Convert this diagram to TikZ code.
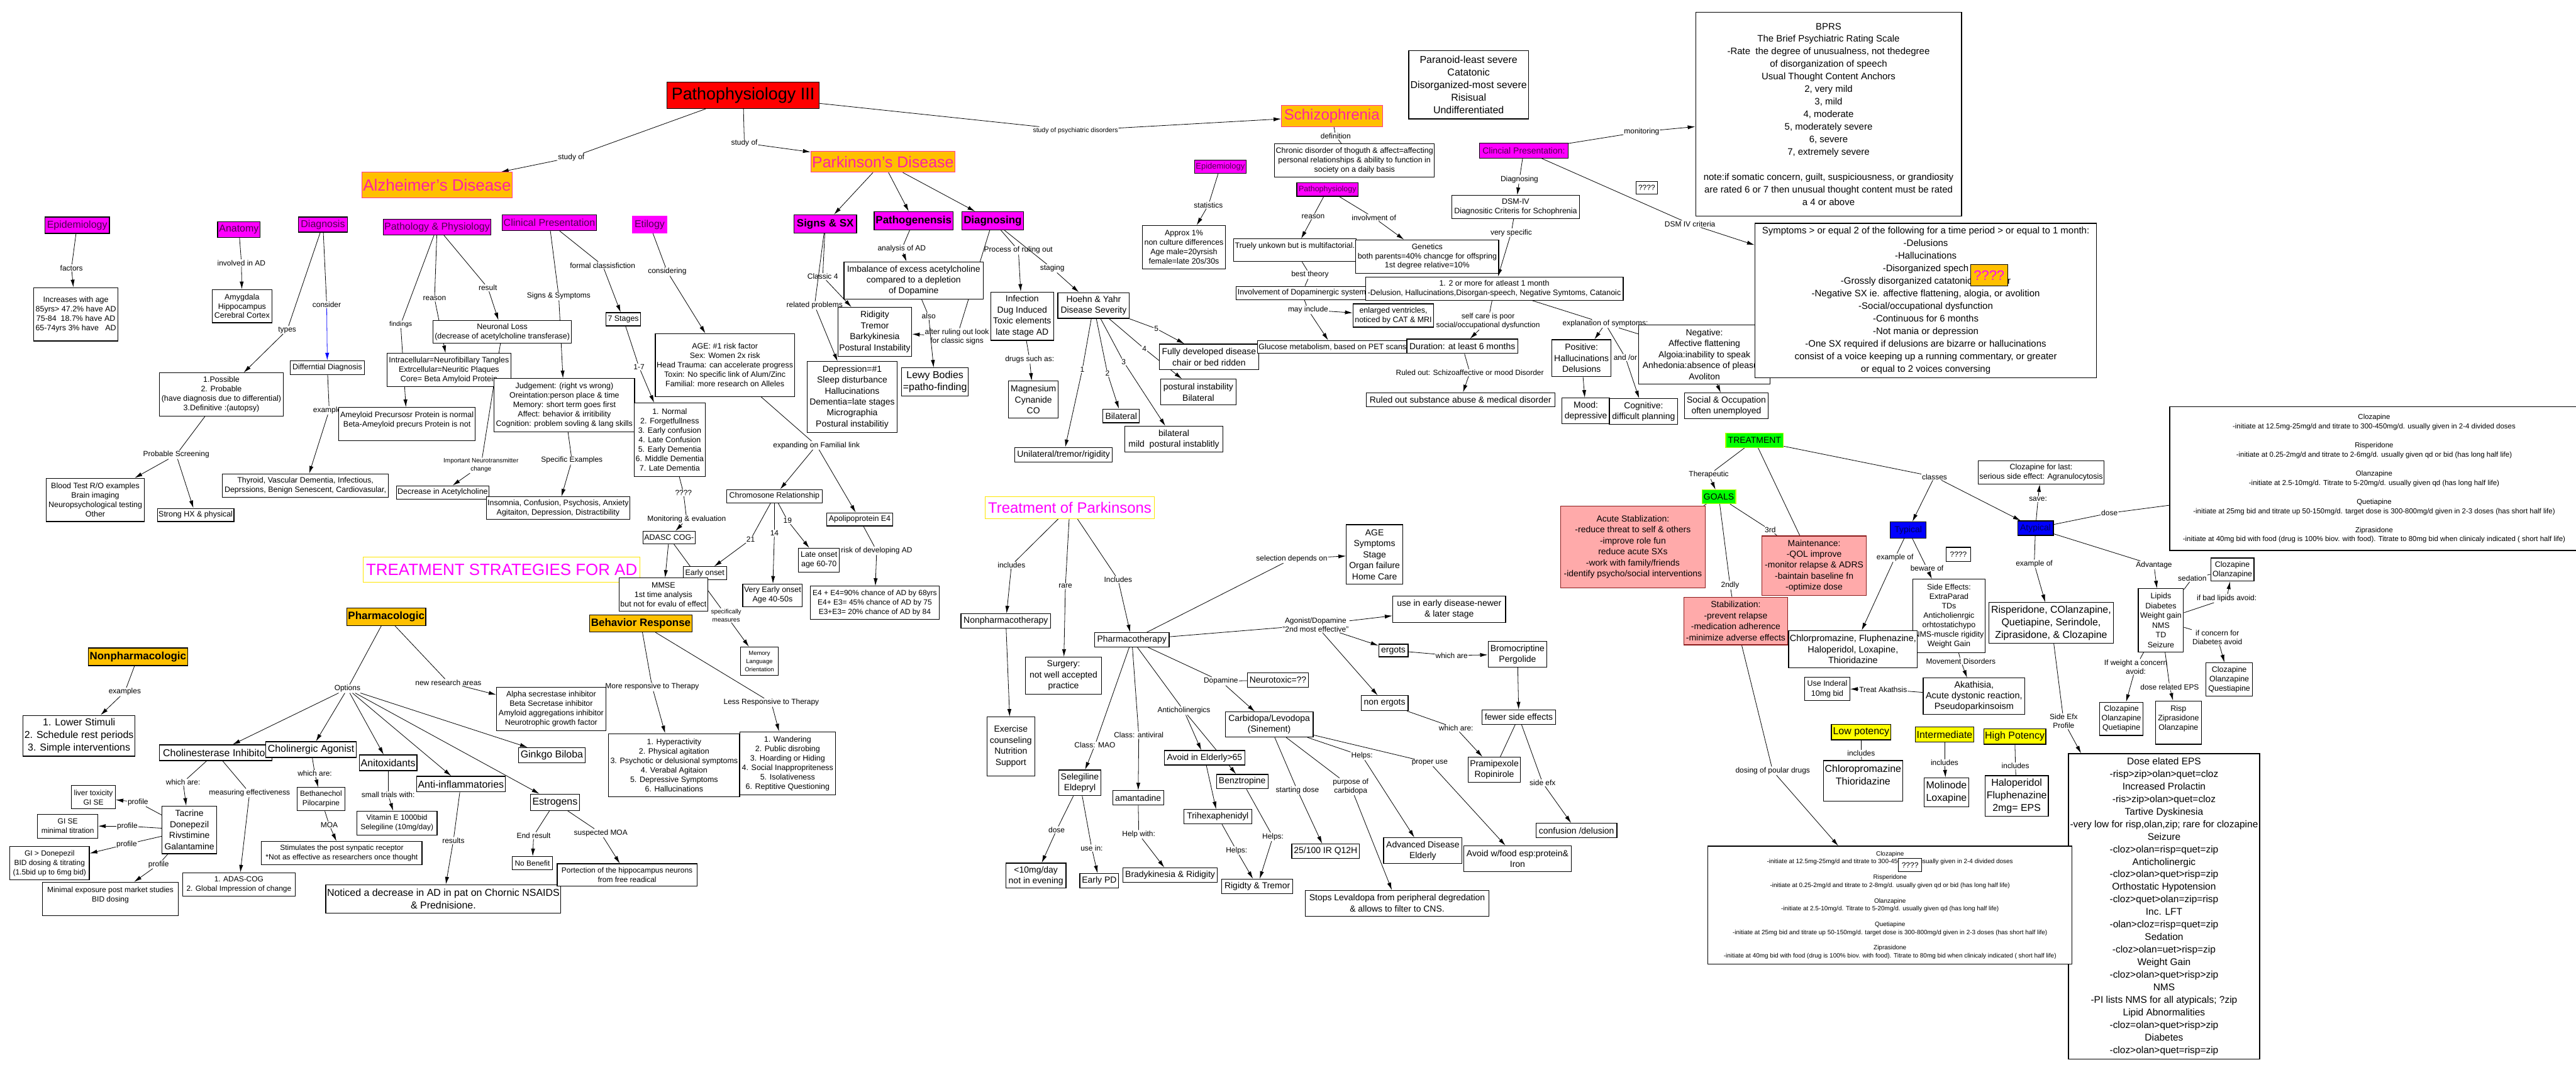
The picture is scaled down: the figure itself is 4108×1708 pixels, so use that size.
\documentclass[tikz,border=0pt]{standalone}
\usepackage{fontspec}
\setmainfont{Liberation Sans}
\usetikzlibrary{arrows.meta, backgrounds}
\definecolor{patred}{HTML}{FF0000}
\definecolor{gold}{HTML}{FFC000}
\definecolor{hotpink}{HTML}{FF1FA5}
\definecolor{pinkline}{HTML}{FF3399}
\definecolor{magfill}{HTML}{FF00FF}
\definecolor{magtext}{HTML}{4D004D}
\definecolor{lime}{HTML}{00FF00}
\definecolor{rose}{HTML}{FFAAAA}
\definecolor{roseline}{HTML}{8B1A1A}
\definecolor{ylw}{HTML}{FFFF00}
\definecolor{bluebox}{HTML}{0000FF}
\newcommand{\fsz}[2]{\fontsize{#1}{#2}\selectfont}
\tikzset{
    cbox/.style={
        draw, line width=1.2pt, fill=white, align=center,
        inner sep=2pt, font=\fsz{12.5}{15},
    },
    dims/.style 2 args={minimum width=#1, minimum height=#2},
    magbox/.style={cbox, fill=magfill, text=magtext, font=\fsz{16}{18}},
    boldmag/.style={cbox, fill=magfill, font=\fsz{17}{19}\bfseries},
    titlebox/.style={
        cbox, fill=gold, draw=pinkline, line width=1pt,
        text=hotpink, font=\fsz{26}{28},
    },
    headbox/.style={
        cbox, fill=white, draw=ylw!80!orange, line width=1pt,
        text=magfill, font=\fsz{26}{28},
    },
    orgbox/.style={cbox, fill=gold, font=\fsz{17}{19}\bfseries},
    greenbox/.style={cbox, fill=lime, draw=ylw!70!lime, font=\fsz{14}{16}},
    bluenode/.style={cbox, fill=bluebox, draw=black, text=blue!35!black, font=\fsz{14}{16}},
    rosebox/.style={cbox, fill=rose, draw=roseline, font=\fsz{14}{17.5}},
    ylwbox/.style={cbox, fill=ylw, font=\fsz{16}{18}},
    lbl/.style={inner sep=1pt, align=center, font=\fsz{12}{14}},
    slbl/.style={lbl, font=\fsz{10.5}{13}},
    ln/.style={line width=0.8pt},
    arr/.style={ln, -{Latex[length=12pt, width=6.5pt]}},
}

\begin{document}
\begin{tikzpicture}[x=1pt, y=-1pt]
\useasboundingbox (0,0) rectangle (4108,1708);

% ═══ ROOT ═══
\node[cbox, dims={243}{42}, fill=patred, inner sep=0pt, font=\fsz{27}{29}] (patho) at (1185,152) {Pathophysiology III};
\node[titlebox, dims={240}{41}] (ad) at (697,295) {Alzheimer's Disease};
\node[titlebox, dims={224}{33}, font=\fsz{25}{27}] (pd) at (1408,258) {Parkinson's Disease};
\node[titlebox, dims={161}{34}, font=\fsz{24}{26}] (schizo) at (2124,185) {Schizophrenia};

\node[lbl] (lstudyad) at (911,251) {study of};
\node[lbl] (lstudypd) at (1187,228) {study of};
\node[slbl] (lpsych) at (1715,208) {study of psychiatric disorders};

% ═══ ALZHEIMER'S ═══
\node[magbox, dims={103}{26}] (adepi) at (123,359) {Epidemiology};
\node[magbox, dims={68}{25}] (adanat) at (381,366) {Anatomy};
\node[magbox, dims={78}{24}] (addiag) at (515,358) {Diagnosis};
\node[magbox, dims={170}{25}] (adpath) at (697,362) {Pathology \& Physiology};
\node[magbox, dims={150}{25}] (adclin) at (876,355) {Clinical Presentation};
\node[magbox, dims={55}{26}, draw=magfill] (adetio) at (1036,358) {Etilogy};

\node[lbl] (lfactors) at (114,427) {factors};
\node[lbl] (linvol) at (385,419) {involved in AD};
\node[lbl] (lconsider) at (521,486) {consider};
\node[lbl] (ltypes) at (458,526) {types};
\node[slbl] (lfindings) at (639,517) {findings};
\node[lbl] (lreason) at (693,476) {reason};
\node[lbl] (lresult) at (778,459) {result};
\node[lbl] (lsignsym) at (891,472) {Signs \& Symptoms};
\node[lbl] (lformal) at (961,423) {formal classisfiction};
\node[lbl] (lconsid) at (1064,433) {considering};
\node[lbl] (lprobscr) at (281,725) {Probable Screening};
\node[lbl] (lexamp) at (525,654) {examples};
\node[slbl, font=\fsz{10}{13}] (lneuro) at (767,742) {Important Neurotransmitter\\change};
\node[lbl] (lspecex) at (912,734) {Specific Examples};
\node[lbl] (lseven) at (1019,585) {1-7};
\node[lbl] (lqq) at (1090,786) {????};
\node[lbl] (lmonit) at (1095,828) {Monitoring \& evaluation};
\node[lbl] (lexpand) at (1302,710) {expanding on Familial link};
\node[lbl] (ltwentyone) at (1197,860) {21};
\node[lbl] (lfourteen) at (1235,850) {14};
\node[lbl] (lnineteen) at (1256,830) {19};
\node[lbl] (lrisk) at (1398,878) {risk of developing AD};
\node[slbl, font=\fsz{10}{13}] (lspecif) at (1158,981) {specifically\\measures};

\node[cbox, dims={134}{85}] (adinc) at (121,501) {Increases with age\\85yrs> 47.2\% have AD\\75-84~~18.7\% have AD\\65-74yrs 3\% have~~~AD};
\node[cbox, dims={95}{53}] (adamyg) at (386,488) {Amygdala\\Hippocampus\\Cerebral Cortex};
\node[cbox, dims={197}{69}] (poss) at (353,629) {1.Possible\\2. Probable\\(have diagnosis due to differential)\\3.Definitive :(autopsy)};
\node[cbox, dims={119}{22}] (diffdx) at (522,586) {Differntial Diagnosis};
\node[cbox, dims={156}{69}] (blood) at (152,797) {Blood Test R/O examples\\Brain imaging\\Neuropsychological testing\\Other};
\node[cbox, dims={121}{21}] (stronghx) at (312,821) {Strong HX \& physical};
\node[cbox, dims={265}{37}] (thyroid) at (487,774) {Thyroid, Vascular Dementia, Infectious,\\Deprssions, Benign Senescent, Cardiovasular,};
\node[cbox, dims={221}{36}] (neuloss) at (801,529) {Neuronal Loss\\(decrease of acetylcholine transferase)};
\node[cbox, dims={198}{53}] (intra) at (716,590) {Intracellular=Neurofibillary Tangles\\Extrcellular=Neuritic Plaques\\Core= Beta Amyloid Protein};
\node[cbox, dims={218}{53}] (ameyl) at (649,676) {Ameyloid Precursosr Protein is normal\\Beta-Ameyloid precurs Protein is not\\\mbox{}};
\node[cbox, dims={224}{85}] (judge) at (900,646) {Judgement: (right vs wrong)\\Oreintation:person place \& time\\Memory: short term goes first\\Affect: behavior \& irritibility\\Cognition: problem sovling \& lang skills};
\node[cbox, dims={148}{21}] (decach) at (706,785) {Decrease in Acetylcholine};
\node[cbox, dims={228}{36}] (insom) at (890,810) {Insomnia, Confusion, Psychosis, Anxiety\\Agitaiton, Depression, Distractibility};
\node[cbox, dims={55}{21}] (stages) at (994,509) {7 Stages};
\node[cbox, dims={113}{117}] (normal) at (1068,701) {1. Normal\\2. Forgetfullness\\3. Early confusion\\4. Late Confusion\\5. Early Dementia\\6. Middle Dementia\\7. Late Dementia};
\node[cbox, dims={82}{20}] (adasc) at (1067,857) {ADASC COG-};
\node[cbox, dims={222}{100}] (agebox) at (1156,582) {AGE: \#1 risk factor\\Sex: Women 2x risk\\Head Trauma: can accelerate progress\\Toxin: No specific link of Alum/Zinc\\Familial: more research on Alleles};
\node[cbox, dims={153}{21}] (chromo) at (1235,791) {Chromosone Relationship};
\node[cbox, dims={65}{38}] (lateon) at (1306,893) {Late onset\\age 60-70};
\node[cbox, dims={105}{21}] (apoe) at (1371,828) {Apolipoprotein E4};
\node[cbox, dims={205}{53}, font=\fsz{12}{15}] (efour) at (1395,961) {E4 + E4=90\% chance of AD by 68yrs\\E4+ E3= 45\% chance of AD by 75\\E3+E3= 20\% chance of AD by 84};
\node[cbox, dims={69}{21}] (earlyon) at (1124,914) {Early onset};
\node[cbox, dims={94}{36}] (vearly) at (1232,949) {Very Early onset\\Age 40-50s};
\node[headbox, dims={441}{40}] (adtreat) at (800,908) {TREATMENT STRATEGIES FOR AD};
\node[cbox, dims={141}{53}] (mmse) at (1058,948) {MMSE\\1st time analysis\\but not for evalu of effect};
\node[cbox, dims={60}{45}, font=\fsz{9.5}{13}] (memlang) at (1211,1054) {Memory\\Language\\Orientation};

% ═══ AD TREATMENT ═══
\node[orgbox, dims={125}{28}] (pharm) at (616,983) {Pharmacologic};
\node[orgbox, dims={164}{27}] (behav) at (1022,994) {Behavior Response};
\node[orgbox, dims={156}{28}] (nonpharm) at (220,1047) {Nonpharmacologic};

\node[lbl] (lexamples) at (199,1103) {examples};
\node[lbl] (loptions) at (554,1098) {Options};
\node[lbl] (lnewres) at (715,1088) {new research areas};
\node[lbl] (lmore) at (1040,1095) {More responsive to Therapy};
\node[lbl] (lless) at (1230,1120) {Less Responsive to Therapy};
\node[lbl] (lwhichci) at (292,1247) {which are:};
\node[lbl] (lmeasur) at (398,1264) {measuring effectiveness};
\node[lbl] (lwhichca) at (502,1233) {which are:};
\node[lbl] (lsmall) at (619,1267) {small trials with:};
\node[lbl] (lprofa) at (220,1279) {profile};
\node[lbl] (lprofb) at (203,1317) {profile};
\node[lbl] (lprofc) at (202,1346) {profile};
\node[lbl] (lprofd) at (253,1378) {profile};
\node[lbl] (lmoa) at (525,1315) {MOA};
\node[lbl] (lresults) at (723,1340) {results};
\node[lbl] (lendres) at (851,1332) {End result};
\node[lbl] (lsuspmoa) at (958,1328) {suspected MOA};

\node[cbox, dims={177}{65}, font=\fsz{16}{20}] (lower) at (126,1173) {1. Lower Stimuli\\2. Schedule rest periods\\3. Simple interventions};
\node[cbox, dims={174}{69}] (alpha) at (879,1130) {Alpha secrestase inhibitor\\Beta Secretase inhibitor\\Amyloid aggregations inhibitor\\Neurotrophic growth factor};
\node[cbox, dims={209}{101}] (hyper) at (1075,1220) {1. Hyperactivity\\2. Physical agitation\\3. Psychotic or delusional symptoms\\4. Verabal Agitaion\\5. Depressive Symptoms\\6. Hallucinations};
\node[cbox, dims={152}{101}] (wander) at (1256,1217) {1. Wandering\\2. Public disrobing\\3. Hoarding or Hiding\\4. Social Inappropriteness\\5. Isolativeness\\6. Reptitive Questioning};
\node[cbox, dims={179}{25}, font=\fsz{16}{18}] (chei) at (344,1200) {Cholinesterase Inhibitor};
\node[cbox, dims={144}{25}, font=\fsz{16}{18}] (cholag) at (496,1195) {Cholinergic Agonist};
\node[cbox, dims={92}{25}, font=\fsz{16}{18}] (antiox) at (619,1216) {Anitoxidants};
\node[cbox, dims={141}{25}, font=\fsz{16}{18}] (antiinf) at (735,1250) {Anti-inflammatories};
\node[cbox, dims={106}{24}, font=\fsz{16}{18}] (ginkgo) at (880,1204) {Ginkgo Biloba};
\node[cbox, dims={78}{26}, font=\fsz{16}{18}] (estro) at (885,1279) {Estrogens};
\node[cbox, dims={70}{37}, font=\fsz{12}{15}] (livertox) at (149,1271) {liver toxicity\\GI SE};
\node[cbox, dims={87}{76}, font=\fsz{14}{17.5}] (tacrine) at (302,1323) {Tacrine\\Donepezil\\Rivstimine\\Galantamine};
\node[cbox, dims={96}{38}, font=\fsz{12}{15}] (gise) at (108,1317) {GI SE\\minimal titration};
\node[cbox, dims={127}{53}, font=\fsz{12}{15}] (gidon) at (79,1376) {GI > Donepezil\\BID dosing \& titrating\\(1.5bid up to 6mg bid)};
\node[cbox, dims={216}{53}, font=\fsz{12}{15}] (minexp) at (176,1433) {Minimal exposure post market studies\\BID dosing\\\mbox{}};
\node[cbox, dims={179}{37}, font=\fsz{12}{15}] (adascog) at (381,1410) {1. ADAS-COG\\2. Global Impression of change};
\node[cbox, dims={76}{37}, font=\fsz{12}{15}] (betha) at (512,1274) {Bethanechol\\Pilocarpine};
\node[cbox, dims={256}{37}, font=\fsz{12}{15}] (stim) at (545,1360) {Stimulates the post synpatic receptor\\*Not as effective as researchers once thought};
\node[cbox, dims={128}{38}, font=\fsz{12}{15}] (vite) at (633,1312) {Vitamin E 1000bid\\Selegiline (10mg/day)};
\node[cbox, dims={371}{45}, font=\fsz{16}{20}] (noticed) at (707,1433) {Noticed a decrease in AD in pat on Chornic NSAIDS\\\& Prednisione.};
\node[cbox, dims={64}{21}, font=\fsz{12}{15}] (nobenefit) at (849,1376) {No Benefit};
\node[cbox, dims={223}{36}, font=\fsz{12}{15}] (portect) at (1000,1395) {Portection of the hippocampus neurons\\from free readical};

% ═══ PARKINSON'S ═══
\node[boldmag, dims={100}{29}] (signs) at (1316,357) {Signs \& SX};
\node[boldmag, dims={126}{29}] (pathogen) at (1457,352) {Pathogenensis};
\node[boldmag, dims={98}{29}] (pddiag) at (1583,352) {Diagnosing};

\node[lbl] (lclassic) at (1312,441) {Classic 4};
\node[lbl] (lrelated) at (1299,487) {related problems};
\node[lbl] (lanalysis) at (1438,397) {analysis of AD};
\node[lbl] (lalso) at (1481,504) {also};
\node[lbl] (lafter) at (1526,537) {after ruling out look\\for classic signs};
\node[lbl] (lprocess) at (1624,399) {Process of ruling out};
\node[lbl] (lstaging) at (1678,428) {staging};
\node[lbl] (ldrugs) at (1642,573) {drugs such as:};
\node[lbl] (lone) at (1726,589) {1};
\node[lbl] (ltwo) at (1766,595) {2};
\node[lbl] (lthree) at (1792,577) {3};
\node[lbl] (lfour) at (1825,556) {4};
\node[lbl] (lfive) at (1844,524) {5};

\node[cbox, dims={222}{59}, font=\fsz{14}{17}] (imbal) at (1457,447) {Imbalance of excess acetylcholine\\compared to a depletion\\of Dopamine};
\node[cbox, dims={118}{78}, font=\fsz{14}{17.5}] (ridig) at (1395,529) {Ridigity\\Tremor\\Barkykinesia\\Postural Instability};
\node[cbox, dims={144}{113}, font=\fsz{14}{17.5}] (depress) at (1359,633) {Depression=\#1\\Sleep disturbance\\Hallucinations\\Dementia=late stages\\Micrographia\\Postural instabilitiy};
\node[cbox, dims={106}{45}, font=\fsz{16}{19}] (lewy) at (1491,609) {Lewy Bodies\\=patho-finding};
\node[cbox, dims={100}{77}, font=\fsz{14}{17.5}] (infect) at (1630,504) {Infection\\Dug Induced\\Toxic elements\\late stage AD};
\node[cbox, dims={114}{41}, font=\fsz{14}{17}] (hoehn) at (1744,487) {Hoehn \& Yahr\\Disease Severity};
\node[cbox, dims={79}{59}, font=\fsz{14}{17.5}] (magnes) at (1648,637) {Magnesium\\Cynanide\\CO};
\node[cbox, dims={159}{41}, font=\fsz{14}{18}] (fully) at (1928,569) {Fully developed disease\\chair or bed ridden};
\node[cbox, dims={120}{41}, font=\fsz{14}{18}] (postbil) at (1911,625) {postural instability\\Bilateral};
\node[cbox, dims={58}{22}, font=\fsz{14}{17}] (bilat) at (1788,663) {Bilateral};
\node[cbox, dims={156}{41}, font=\fsz{14}{17}] (bilmild) at (1872,700) {bilateral\\mild~ postural instablitly};
\node[cbox, dims={156}{23}, font=\fsz{14}{17}] (unilat) at (1696,725) {Unilateral/tremor/rigidity};

% ═══ PARKINSON'S TREATMENT ═══
\node[headbox, dims={269}{35}, font=\fsz{24}{26}] (pdtreat) at (1706,809) {Treatment of Parkinsons};

\node[lbl] (lincla) at (1613,901) {includes};
\node[lbl] (lrare) at (1699,934) {rare};
\node[lbl] (linclb) at (1783,924) {Includes};
\node[lbl] (lselect) at (2060,891) {selection depends on};
\node[lbl] (lagonist) at (2098,996) {Agonist/Dopamine\\"2nd most effective"};
\node[lbl] (lwhichergo) at (2315,1045) {which are};
\node[lbl] (lwhichnon) at (2322,1161) {which are:};
\node[lbl] (lsideefx) at (2460,1248) {side efx};
\node[lbl] (ldopamine) at (1947,1086) {Dopamine};
\node[lbl] (lantichol) at (1888,1133) {Anticholinergics};
\node[lbl] (lantiviral) at (1816,1172) {Class: antiviral};
\node[lbl] (lmao) at (1746,1188) {Class: MAO};
\node[lbl] (lhelpsa) at (2172,1205) {Helps:};
\node[lbl] (lproper) at (2280,1216) {proper use};
\node[lbl] (lstart) at (2069,1260) {starting dose};
\node[lbl] (lpurpose) at (2154,1254) {purpose of\\carbidopa};
\node[lbl] (ldose) at (1685,1323) {dose};
\node[lbl] (lusein) at (1741,1352) {use in:};
\node[lbl] (lhelpwith) at (1816,1330) {Help with:};
\node[lbl] (lhelpsb) at (2030,1334) {Helps:};
\node[lbl] (lhelpsc) at (1972,1356) {Helps:};

\node[cbox, dims={143}{23}, font=\fsz{14}{17}] (nonpharmth) at (1604,990) {Nonpharmacotherapy};
\node[cbox, dims={121}{59}, font=\fsz{14}{17.5}] (surgery) at (1696,1077) {Surgery:\\not well accepted\\practice};
\node[cbox, dims={76}{94}, font=\fsz{14}{17.5}] (exercise) at (1612,1190) {Exercise\\counseling\\Nutrition\\Support};
\node[cbox, dims={119}{23}, font=\fsz{14}{17}] (pharmth) at (1805,1020) {Pharmacotherapy};
\node[cbox, dims={90}{95}, font=\fsz{14}{17.5}] (agesym) at (2192,884) {AGE\\Symptoms\\Stage\\Organ failure\\Home Care};
\node[cbox, dims={180}{42}, font=\fsz{14}{17}] (useearly) at (2311,971) {use in early disease-newer\\\& later stage};
\node[cbox, dims={47}{20}, font=\fsz{14}{17}] (ergots) at (2222,1037) {ergots};
\node[cbox, dims={94}{41}, font=\fsz{14}{17}] (bromo) at (2420,1043) {Bromocriptine\\Pergolide};
\node[cbox, dims={75}{24}, font=\fsz{14}{17}] (nonergots) at (2208,1121) {non ergots};
\node[cbox, dims={83}{40}, font=\fsz{14}{17}] (pramip) at (2383,1227) {Pramipexole\\Ropinirole};
\node[cbox, dims={117}{23}, font=\fsz{14}{17}] (fewer) at (2422,1143) {fewer side effects};
\node[cbox, dims={129}{23}, font=\fsz{14}{17}] (confus) at (2514,1324) {confusion /delusion};
\node[cbox, dims={97}{23}, font=\fsz{14}{17}] (neurotox) at (2038,1084) {Neurotoxic=??};
\node[cbox, dims={140}{40}, font=\fsz{14}{17}] (carbi) at (2024,1155) {Carbidopa/Levodopa\\(Sinement)};
\node[cbox, dims={128}{23}, font=\fsz{14}{17}] (avoidel) at (1921,1208) {Avoid in Elderly>65};
\node[cbox, dims={82}{23}, font=\fsz{14}{17}] (benz) at (1981,1246) {Benztropine};
\node[cbox, dims={67}{41}, font=\fsz{14}{17}] (seleg) at (1722,1248) {Selegiline\\Eldepryl};
\node[cbox, dims={81}{23}, font=\fsz{14}{17}] (amant) at (1815,1272) {amantadine};
\node[cbox, dims={108}{23}, font=\fsz{14}{17}] (trihex) at (1942,1302) {Trihexaphenidyl};
\node[cbox, dims={96}{40}, font=\fsz{14}{17}] (ltten) at (1652,1396) {<10mg/day\\not in evening};
\node[cbox, dims={62}{23}, font=\fsz{14}{17}] (earlypd) at (1753,1404) {Early PD};
\node[cbox, dims={151}{23}, font=\fsz{14}{17}] (bradyk) at (1866,1395) {Bradykinesia \& Ridigity};
\node[cbox, dims={113}{23}, font=\fsz{14}{17}] (rigtrem) at (2005,1413) {Rigidty \& Tremor};
\node[cbox, dims={108}{23}, font=\fsz{14}{17}] (dosetf) at (2114,1357) {25/100 IR Q12H};
\node[cbox, dims={125}{41}, font=\fsz{14}{17}] (advdis) at (2269,1356) {Advanced Disease\\Elderly};
\node[cbox, dims={171}{41}, font=\fsz{14}{17}] (avoidfood) at (2420,1369) {Avoid w/food esp:protein\&\\Iron};
\node[cbox, dims={293}{41}, font=\fsz{14}{18}] (stops) at (2228,1440) {Stops Levaldopa from peripheral degredation\\\& allows to filter to CNS.};

% ═══ SCHIZOPHRENIA ═══
\node[lbl] (ldefn) at (2130,217) {definition};
\node[lbl] (lstats) at (1927,327) {statistics};
\node[lbl] (lsreason) at (2094,345) {reason};
\node[lbl] (linvolv) at (2191,347) {involvment of};
\node[lbl] (lbest) at (2089,438) {best theory};
\node[lbl] (lmayinc) at (2086,494) {may include};
\node[lbl] (lselfcare) at (2373,512) {self care is poor\\social/occupational dysfunction};
\node[lbl] (lruled) at (2344,594) {Ruled out: Schizoaffective or mood Disorder};
\node[lbl] (lexplan) at (2560,516) {explanation of symptoms:};
\node[lbl] (landor) at (2592,570) {and /or};
\node[lbl] (lmonitoring) at (2618,210) {monitoring};
\node[lbl] (lsdiag) at (2423,286) {Diagnosing};
\node[lbl] (lvspec) at (2410,371) {very specific};
\node[lbl] (ldsmcrit) at (2695,357) {DSM IV criteria};

\node[cbox, dims={191}{109}, font=\fsz{16}{20}] (paran) at (2342,135) {Paranoid-least severe\\Catatonic\\Disorganized-most severe\\Risisual\\Undifferentiated};
\node[cbox, dims={252}{53}, font=\fsz{12.5}{15}] (chronic) at (2160,256) {Chronic disorder of thoguth \& affect=affecting\\personal relationships \& ability to function in\\society on a daily basis};
\node[magbox, dims={82}{21}, font=\fsz{13}{15}] (szepi) at (1946,266) {Epidemiology};
\node[cbox, dims={132}{69}] (approx) at (1888,394) {Approx 1\%\\non culture differences\\Age male=20yrsish\\female=late 20s/30s};
\node[magbox, dims={98}{22}, font=\fsz{12.5}{15}] (szpath) at (2117,302) {Pathophysiology};
\node[cbox, dims={195}{36}] (truely) at (2065,399) {Truely unkown but is multifactorial.\\\mbox{}};
\node[cbox, dims={228}{53}] (genet) at (2276,409) {Genetics\\both parents=40\% chancge for offspring\\1st degree relative=10\%};
\node[cbox, dims={203}{21}] (dopsys) at (2076,467) {Involvement of Dopaminergic system};
\node[cbox, dims={411}{37}] (twomore) at (2383,460) {1. 2 or more for atleast 1 month\\-Delusion, Hallucinations,Disorgan-speech, Negative Symtoms, Catanoic};
\node[cbox, dims={129}{37}] (enlarged) at (2222,503) {enlarged ventricles,\\noticed by CAT \& MRI};
\node[cbox, dims={238}{20}] (glucose) at (2125,553) {Glucose metabolism, based on PET scans};
\node[cbox, dims={177}{23}, font=\fsz{14}{17}] (duration) at (2332,552) {Duration: at least 6 months};
\node[cbox, dims={301}{22}, font=\fsz{14}{17}] (ruledsub) at (2329,637) {Ruled out substance abuse \& medical disorder};
\node[cbox, dims={94}{59}, font=\fsz{14}{17.5}] (positive) at (2522,571) {Positive:\\Hallucinations\\Delusions};
\node[cbox, dims={209}{94}, font=\fsz{14}{17.5}] (negative) at (2718,565) {Negative:\\Affective flattening\\Algoia:inability to speak\\Anhedonia:absence of pleasure\\Avoliton};
\node[cbox, dims={76}{41}, font=\fsz{14}{17}] (mood) at (2529,655) {Mood:\\depressive};
\node[cbox, dims={109}{41}, font=\fsz{14}{17}] (cognit) at (2621,656) {Cognitive:\\difficult planning};
\node[cbox, dims={133}{41}, font=\fsz{14}{17}] (social) at (2753,647) {Social \& Occupation\\often unemployed};
\node[magbox, dims={141}{24}, font=\fsz{14}{16}] (szclin) at (2430,240) {Clincial Presentation:};
\node[cbox, dims={203}{37}] (dsm) at (2417,330) {DSM-IV\\Diagnositic Criteris for Schophrenia};
\node[cbox, dims={34}{20}, font=\fsz{12}{14}] (qbox) at (2626,299) {????};
\node[cbox, dims={424}{325}, font=\fsz{15}{20}] (bprs) at (2916,182) {BPRS\\The Brief Psychiatric Rating Scale\\-Rate~ the degree of unusualness, not thedegree\\of disorganization of speech\\Usual Thought Content Anchors\\2, very mild\\3, mild\\4, moderate\\5, moderately severe\\6, severe\\7, extremely severe\\[20pt]note:if somatic concern, guilt, suspiciousness, or grandiosity\\are rated 6 or 7 then unusual thought content must be rated\\a 4 or above};
\node[cbox, dims={545}{246}, font=\fsz{15}{20}] (symp) at (3071,479) {Symptoms > or equal 2 of the following for a time period > or equal to 1 month:\\-Delusions\\-Hallucinations\\-Disorganized spech\\-Grossly disorganized catatonic behavior\\-Negative SX ie. affective flattening, alogia, or avolition\\-Social/occupational dysfunction\\-Continuous for 6 months\\-Not mania or depression\\-One SX required if delusions are bizarre or hallucinations\\consist of a voice keeping up a running commentary, or greater\\or equal to 2 voices conversing};
\node[titlebox, dims={59}{34}, font=\fsz{22}{24}, draw=black, line width=1.2pt, text=magfill] (qorange) at (3172,439) {????};

% ═══ SCHIZOPHRENIA TREATMENT ═══
\node[lbl] (ltherap) at (2725,757) {Therapeutic};
\node[lbl] (lthird) at (2823,845) {3rd};
\node[lbl] (lsecond) at (2759,933) {2ndly};
\node[lbl] (lclasses) at (3085,760) {classes};
\node[lbl] (lsave) at (3250,796) {save:};
\node[lbl] (ldosing) at (3364,818) {dose};
\node[lbl] (lexofa) at (3022,889) {example of};
\node[lbl] (lbeware) at (3073,906) {beware of};
\node[lbl] (lmovdis) at (3127,1054) {Movement Disorders};
\node[lbl] (ltreatak) at (3003,1099) {Treat Akathsis};
\node[lbl] (lexofb) at (3244,899) {example of};
\node[lbl] (ladvant) at (3435,901) {Advantage};
\node[lbl] (lsedation) at (3496,922) {sedation};
\node[lbl] (lbadlip) at (3551,954) {if bad lipids avoid:};
\node[lbl] (ldiabav) at (3536,1016) {if concern for\\Diabetes avoid};
\node[lbl] (lweight) at (3406,1063) {If weight a concern\\avoid:};
\node[lbl] (ldoseeps) at (3460,1095) {dose related EPS};
\node[lbl] (lsidefxp) at (3291,1150) {Side Efx\\Profile};
\node[lbl] (lincpa) at (2968,1201) {includes};
\node[lbl] (lincpb) at (3101,1216) {includes};
\node[lbl] (lincpc) at (3214,1221) {includes};
\node[lbl] (lpopular) at (2827,1229) {dosing of poular drugs};

\node[greenbox, dims={92}{23}] (treat) at (2798,702) {TREATMENT};
\node[greenbox, dims={54}{22}] (goals) at (2741,792) {GOALS};
\node[rosebox, dims={231}{131}] (acute) at (2604,872) {Acute Stablization:\\-reduce threat to self \& others\\-improve role fun\\reduce acute SXs\\-work with family/friends\\-identify psycho/social interventions};
\node[rosebox, dims={167}{95}] (maint) at (2893,902) {Maintenance:\\-QOL improve\\-monitor relapse \& ADRS\\-baintain baseline fn\\-optimize dose};
\node[rosebox, dims={166}{76}] (stabil) at (2768,990) {Stabilization:\\-prevent relapse\\-medication adherence\\-minimize adverse effects};
\node[bluenode, dims={57}{26}] (typical) at (3043,845) {Typical};
\node[bluenode, dims={57}{23}] (atypical) at (3246,842) {Atypical};
\node[cbox, dims={201}{37}] (clozlast) at (3255,753) {Clozapine for last:\\serious side effect: Agranulocytosis};
\node[cbox, dims={652}{229}, font=\fsz{11.5}{15}] (dosetop) at (3786,763) {Clozapine\\-initiate at 12.5mg-25mg/d and titrate to 300-450mg/d. usually given in 2-4 divided doses\\[15pt]Risperidone\\-initiate at 0.25-2mg/d and titrate to 2-6mg/d. usually given qd or bid (has long half life)\\[15pt]Olanzapine\\-initiate at 2.5-10mg/d. Titrate to 5-20mg/d. usually given qd (has long half life)\\[15pt]Quetiapine\\-initiate at 25mg bid and titrate up 50-150mg/d. target dose is 300-800mg/d given in 2-3 doses (has short half life)\\[15pt]Ziprasidone\\-initiate at 40mg bid with food (drug is 100\% biov. with food). Titrate to 80mg bid when clinicaly indicated ( short half life)};
\node[cbox, dims={39}{23}, font=\fsz{12}{14}] (qtyp) at (3123,884) {????};
\node[cbox, dims={116}{117}, font=\fsz{12.5}{15}] (sidefx) at (3108,982) {Side Effects:\\ExtraParad\\TDs\\Anticholienrgic\\orhtostatichypo\\NMS-muscle rigidity\\Weight Gain};
\node[cbox, dims={204}{59}, font=\fsz{14.5}{17.5}] (chlorp) at (2955,1035) {Chlorpromazine, Fluphenazine,\\Haloperidol, Loxapine,\\Thioridazine};
\node[cbox, dims={162}{58}, font=\fsz{14.5}{17.5}] (akath) at (3148,1110) {Akathisia,\\Acute dystonic reaction,\\Pseudoparkinsoism};
\node[cbox, dims={72}{37}, font=\fsz{12.5}{16}] (inderal) at (2914,1098) {Use Inderal\\10mg bid};
\node[cbox, dims={199}{65}, font=\fsz{16}{20}] (risper) at (3271,993) {Risperidone, COlanzapine,\\Quetiapine, Serindole,\\Ziprasidone, \& Clozapine};
\node[cbox, dims={72}{101}, font=\fsz{12.5}{15.5}] (lipids) at (3446,989) {Lipids\\Diabetes\\Weight gain\\NMS\\TD\\Seizure};
\node[cbox, dims={69}{37}, font=\fsz{12.5}{15}] (cozola) at (3560,908) {Clozapine\\Olanzapine};
\node[cbox, dims={74}{53}, font=\fsz{12.5}{15}] (cozolb) at (3555,1083) {Clozapine\\Olanzapine\\Questiapine};
\node[cbox, dims={69}{53}, font=\fsz{12.5}{15}] (cozolc) at (3383,1146) {Clozapine\\Olanzapine\\Quetiapine};
\node[cbox, dims={73}{69}, font=\fsz{12.5}{15}] (rispzip) at (3474,1152) {Risp\\Ziprasidone\\Olanzapine\\\mbox{}};
\node[ylwbox, dims={95}{25}] (lowpot) at (2968,1167) {Low potency};
\node[ylwbox, dims={93}{24}] (interm) at (3101,1171) {Intermediate};
\node[ylwbox, dims={99}{25}] (highpot) at (3213,1174) {High Potency};
\node[cbox, dims={126}{65}, font=\fsz{16}{20}] (chlorob) at (2971,1245) {Chloropromazine\\Thioridazine\\\mbox{}};
\node[cbox, dims={71}{46}, font=\fsz{16}{20}] (molin) at (3104,1263) {Molinode\\Loxapine};
\node[cbox, dims={101}{65}, font=\fsz{16}{20}] (halop) at (3216,1269) {Haloperidol\\Fluphenazine\\2mg= EPS};
\node[cbox, dims={305}{487}, font=\fsz{15.5}{20}] (doseeps) at (3451,1445) {Dose elated EPS\\-risp>zip>olan>quet=cloz\\Increased Prolactin\\-ris>zip>olan>quet=cloz\\Tartive Dyskinesia\\-very low for risp,olan,zip; rare for clozapine\\Seizure\\-cloz>olan=risp=quet=zip\\Anticholinergic\\-cloz>olan>quet>risp=zip\\Orthostatic Hypotension\\-cloz>quet>olan=zip=risp\\Inc. LFT\\-olan>cloz=risp=quet=zip\\Sedation\\-cloz>olan=uet>risp=zip\\Weight Gain\\-cloz>olan>quet>risp>zip\\NMS\\-PI lists NMS for all atypicals; ?zip\\Lipid Abnormalities\\-cloz=olan>quet>risp>zip\\Diabetes\\-cloz>olan>quet=risp=zip};
\node[cbox, dims={581}{188}, font=\fsz{10}{12.5}] (dosebot) at (3014,1443) {Clozapine\\-initiate at 12.5mg-25mg/d and titrate to 300-450mg/d. usually given in 2-4 divided doses\\[12.5pt]Risperidone\\-initiate at 0.25-2mg/d and titrate to 2-8mg/d. usually given qd or bid (has long half life)\\[12.5pt]Olanzapine\\-initiate at 2.5-10mg/d. Titrate to 5-20mg/d. usually given qd (has long half life)\\[12.5pt]Quetiapine\\-initiate at 25mg bid and titrate up 50-150mg/d. target dose is 300-800mg/d given in 2-3 doses (has short half life)\\[12.5pt]Ziprasidone\\-initiate at 40mg bid with food (drug is 100\% biov. with food). Titrate to 80mg bid when clinicaly indicated ( short half life)};
\node[cbox, dims={37}{21}, font=\fsz{12}{14}] (qdose) at (3046,1379) {????};

% ═══ CONNECTORS (behind the boxes) ═══
\begin{pgfonlayer}{background}
\fill[white] (0,0) rectangle (4108,1708);
% root
\draw[ln] (patho) -- (lstudyad); \draw[arr] (lstudyad) -- (ad);
\draw[ln] (patho) -- (lstudypd); \draw[arr] (lstudypd) -- (pd);
\draw[ln] (patho) -- (lpsych); \draw[arr] (lpsych) -- (schizo);
% alzheimer's
\draw[ln] (adepi) -- (lfactors); \draw[arr] (lfactors) -- (adinc);
\draw[ln] (adanat) -- (linvol); \draw[arr] (linvol) -- (adamyg);
\draw[ln] (addiag) -- (ltypes); \draw[arr] (ltypes) -- (poss);
\draw[ln] (addiag) -- (lconsider); \draw[arr, blue] (lconsider) -- (diffdx);
\draw[ln] (poss) -- (lprobscr); \draw[arr] (lprobscr) -- (blood); \draw[arr] (lprobscr) -- (stronghx);
\draw[ln] (diffdx) -- (lexamp); \draw[arr] (lexamp) -- (thyroid);
\draw[ln] (adpath) -- (lfindings); \draw[arr] (lfindings) -- (ameyl);
\draw[ln] (adpath) -- (lreason); \draw[arr] (lreason) -- (intra);
\draw[ln] (adpath) -- (lresult); \draw[arr] (lresult) -- (neuloss);
\draw[ln] (adclin) -- (lsignsym); \draw[arr] (lsignsym) -- (judge);
\draw[ln] (adclin) -- (lformal); \draw[arr] (lformal) -- (stages);
\draw[ln] (neuloss) -- (lneuro); \draw[arr] (lneuro) -- (decach);
\draw[ln] (judge) -- (lspecex); \draw[arr] (lspecex) -- (insom);
\draw[ln] (stages) -- (lseven); \draw[arr] (lseven) -- (normal);
\draw[ln] (normal) -- (lqq); \draw[ln] (lqq) -- (lmonit); \draw[arr] (lmonit) -- (adasc);
\draw[arr] (adasc) -- (mmse);
\draw[ln] (adasc) -- (lspecif); \draw[arr] (lspecif) -- (memlang);
\draw[ln] (adetio) -- (lconsid); \draw[arr] (lconsid) -- (agebox);
\draw[ln] (agebox) -- (lexpand); \draw[arr] (lexpand) -- (chromo); \draw[arr] (lexpand) -- (apoe);
\draw[ln] (chromo) -- (ltwentyone); \draw[arr] (ltwentyone) -- (earlyon);
\draw[ln] (chromo) -- (lfourteen); \draw[arr] (lfourteen) -- (vearly);
\draw[ln] (chromo) -- (lnineteen); \draw[arr] (lnineteen) -- (lateon);
\draw[ln] (apoe) -- (lrisk); \draw[arr] (lrisk) -- (efour);
% AD treatment
\draw[ln] (nonpharm) -- (lexamples); \draw[arr] (lexamples) -- (lower);
\draw[ln] (pharm) -- (loptions);
\draw[arr] (loptions) -- (chei); \draw[arr] (loptions) -- (cholag); \draw[arr] (loptions) -- (antiox);
\draw[arr] (loptions) -- (antiinf); \draw[arr] (loptions) -- (estro); \draw[arr] (loptions) -- (ginkgo);
\draw[ln] (pharm) -- (lnewres); \draw[arr] (lnewres) -- (alpha);
\draw[ln] (behav) -- (lmore); \draw[arr] (lmore) -- (hyper);
\draw[ln] (behav) -- (lless); \draw[arr] (lless) -- (wander);
\draw[ln] (chei) -- (lwhichci); \draw[arr] (lwhichci) -- (tacrine);
\draw[ln] (chei) -- (lmeasur); \draw[arr] (lmeasur) -- (adascog);
\draw[ln] (tacrine) -- (lprofa); \draw[arr] (lprofa) -- (livertox);
\draw[ln] (tacrine) -- (lprofb); \draw[arr] (lprofb) -- (gise);
\draw[ln] (tacrine) -- (lprofc); \draw[arr] (lprofc) -- (gidon);
\draw[ln] (tacrine) -- (lprofd); \draw[arr] (lprofd) -- (minexp);
\draw[ln] (cholag) -- (lwhichca); \draw[arr] (lwhichca) -- (betha);
\draw[ln] (betha) -- (lmoa); \draw[arr] (lmoa) -- (stim);
\draw[ln] (antiox) -- (lsmall); \draw[arr] (lsmall) -- (vite);
\draw[ln] (antiinf) -- (lresults); \draw[arr] (lresults) -- (noticed);
\draw[ln] (estro) -- (lendres); \draw[arr] (lendres) -- (nobenefit);
\draw[ln] (estro) -- (lsuspmoa); \draw[arr] (lsuspmoa) -- (portect);
% parkinson's
\draw[arr] (pd) -- (signs); \draw[arr] (pd) -- (pathogen); \draw[arr] (pd) -- (pddiag);
\draw[ln] (signs) -- (lclassic); \draw[arr] (lclassic) -- (ridig);
\draw[ln] (signs) -- (lrelated); \draw[arr] (lrelated) -- (depress);
\draw[ln] (pathogen) -- (lanalysis); \draw[arr] (lanalysis) -- (imbal);
\draw[ln] (imbal) -- (lalso); \draw[arr] (lalso) -- (lewy);
\draw[ln] (pddiag) -- (lafter); \draw[arr] (lafter) -- (ridig);
\draw[ln] (pddiag) -- (lprocess); \draw[arr] (lprocess) -- (infect);
\draw[ln] (pddiag) -- (lstaging); \draw[arr] (lstaging) -- (hoehn);
\draw[ln] (infect) -- (ldrugs); \draw[arr] (ldrugs) -- (magnes);
\draw[ln] (hoehn) -- (lone); \draw[arr] (lone) -- (unilat);
\draw[ln] (hoehn) -- (ltwo); \draw[arr] (ltwo) -- (bilat);
\draw[ln] (hoehn) -- (lthree); \draw[arr] (lthree) -- (bilmild);
\draw[ln] (hoehn) -- (lfour); \draw[arr] (lfour) -- (postbil);
\draw[ln] (hoehn) -- (lfive); \draw[arr] (lfive) -- (fully);
% parkinson's treatment
\draw[ln] (pdtreat) -- (lincla); \draw[arr] (lincla) -- (nonpharmth);
\draw[ln] (pdtreat) -- (lrare); \draw[arr] (lrare) -- (surgery);
\draw[ln] (pdtreat) -- (linclb); \draw[arr] (linclb) -- (pharmth);
\draw[arr] (nonpharmth) -- (exercise);
\draw[ln] (pharmth) -- (lselect); \draw[arr] (lselect) -- (agesym);
\draw[ln] (pharmth) -- (lagonist);
\draw[arr] (lagonist) -- (useearly); \draw[arr] (lagonist) -- (ergots); \draw[arr] (lagonist) -- (nonergots);
\draw[ln] (ergots) -- (lwhichergo); \draw[arr] (lwhichergo) -- (bromo);
\draw[ln] (nonergots) -- (lwhichnon); \draw[arr] (lwhichnon) -- (pramip);
\draw[arr] (bromo) -- (fewer); \draw[ln] (pramip) -- (fewer);
\draw[ln] (fewer) -- (lsideefx); \draw[arr] (lsideefx) -- (confus);
\draw[ln] (pharmth) -- (ldopamine); \draw[ln] (ldopamine) -- (neurotox); \draw[arr] (ldopamine) -- (carbi);
\draw[ln] (pharmth) -- (lantichol); \draw[arr] (lantichol) -- (avoidel); \draw[arr] (lantichol) -- (benz);
\draw[arr] (avoidel) -- (trihex);
\draw[ln] (pharmth) -- (lantiviral); \draw[arr] (lantiviral) -- (amant);
\draw[ln] (pharmth) -- (lmao); \draw[arr] (lmao) -- (seleg);
\draw[ln] (seleg) -- (ldose); \draw[arr] (ldose) -- (ltten);
\draw[ln] (seleg) -- (lusein); \draw[arr] (lusein) -- (earlypd);
\draw[ln] (amant) -- (lhelpwith); \draw[arr] (lhelpwith) -- (bradyk);
\draw[ln] (benz) -- (lhelpsb); \draw[arr] (lhelpsb) -- (rigtrem);
\draw[ln] (trihex) -- (lhelpsc); \draw[arr] (lhelpsc) -- (rigtrem);
\draw[ln] (carbi) -- (lstart); \draw[arr] (lstart) -- (dosetf);
\draw[ln] (carbi) -- (lpurpose); \draw[arr] (lpurpose) -- (stops);
\draw[ln] (carbi) -- (lhelpsa); \draw[arr] (lhelpsa) -- (advdis);
\draw[ln] (carbi) -- (lproper); \draw[arr] (lproper) -- (avoidfood);
% schizophrenia
\draw[ln] (schizo) -- (ldefn); \draw[ln] (ldefn) -- (chronic);
\draw[ln] (szepi) -- (lstats); \draw[arr] (lstats) -- (approx);
\draw[ln] (szpath) -- (lsreason); \draw[arr] (lsreason) -- (truely);
\draw[ln] (szpath) -- (linvolv); \draw[arr] (linvolv) -- (genet);
\draw[ln] (truely) -- (lbest); \draw[ln] (lbest) -- (dopsys);
\draw[ln] (dopsys) -- (lmayinc); \draw[arr] (lmayinc) -- (enlarged); \draw[arr] (lmayinc) -- (glucose);
\draw[ln] (szclin) -- (lsdiag); \draw[arr] (lsdiag) -- (dsm);
\draw[ln] (dsm) -- (lvspec); \draw[arr] (lvspec) -- (twomore);
\draw[ln] (szclin) -- (lmonitoring); \draw[arr] (lmonitoring) -- (bprs);
\draw[ln] (szclin) -- (ldsmcrit); \draw[arr] (ldsmcrit) -- (symp);
\draw[ln] (twomore) -- (lselfcare); \draw[arr] (lselfcare) -- (duration);
\draw[ln] (duration) -- (lruled); \draw[arr] (lruled) -- (ruledsub);
\draw[ln] (twomore) -- (lexplan);
\draw[arr] (lexplan) -- (positive); \draw[ln] (lexplan) -- (negative);
\draw[ln] (lexplan) -- (landor); \draw[arr] (landor) -- (cognit);
\draw[arr] (positive) -- (mood); \draw[arr] (negative) -- (social);
% schizophrenia treatment
\draw[ln] (treat) -- (ltherap); \draw[arr] (ltherap) -- (goals);
\draw[ln] (treat) -- (maint);
\draw[ln] (goals) -- (acute);
\draw[ln] (goals) -- (lthird); \draw[ln] (lthird) -- (maint);
\draw[ln] (goals) -- (lsecond); \draw[ln] (lsecond) -- (stabil);
\draw[ln] (treat) -- (lclasses); \draw[arr] (lclasses) -- (typical); \draw[arr] (lclasses) -- (atypical);
\draw[ln] (atypical) -- (lsave); \draw[arr] (lsave) -- (clozlast);
\draw[ln] (atypical) -- (ldosing); \draw[ln] (ldosing) -- (dosetop);
\draw[ln] (typical) -- (lexofa); \draw[arr] (lexofa) -- (chlorp);
\draw[ln] (typical) -- (lbeware); \draw[arr] (lbeware) -- (sidefx);
\draw[ln] (sidefx) -- (lmovdis); \draw[arr] (lmovdis) -- (akath);
\draw[ln] (akath) -- (ltreatak); \draw[arr] (ltreatak) -- (inderal);
\draw[ln] (atypical) -- (lexofb); \draw[arr] (lexofb) -- (risper);
\draw[ln] (atypical) -- (ladvant); \draw[arr] (ladvant) -- (lipids);
\draw[ln] (lipids) -- (lsedation); \draw[ln] (lsedation) -- (cozola);
\draw[ln] (lipids) -- (lbadlip); \draw[arr] (lbadlip) -- (cozola);
\draw[ln] (lipids) -- (ldiabav); \draw[arr] (ldiabav) -- (cozolb);
\draw[ln] (lipids) -- (lweight); \draw[arr] (lweight) -- (cozolc);
\draw[ln] (lipids) -- (ldoseeps); \draw[arr] (ldoseeps) -- (rispzip);
\draw[ln] (risper) -- (lsidefxp); \draw[arr] (lsidefxp) -- (doseeps);
\draw[ln] (lowpot) -- (lincpa); \draw[ln] (lincpa) -- (chlorob);
\draw[ln] (interm) -- (lincpb); \draw[arr] (lincpb) -- (molin);
\draw[ln] (highpot) -- (lincpc); \draw[ln] (lincpc) -- (halop);
\draw[ln] (stabil) -- (lpopular); \draw[arr] (lpopular) -- (dosebot);
\end{pgfonlayer}

\end{tikzpicture}
\end{document}
